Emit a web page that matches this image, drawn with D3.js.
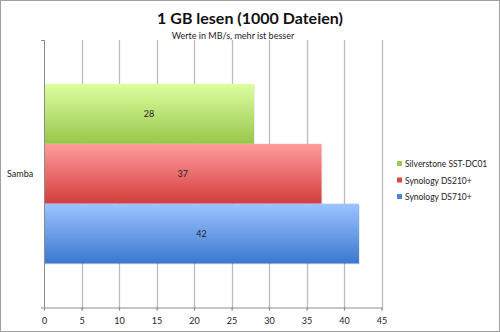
<!DOCTYPE html>
<html><head><meta charset="utf-8">
<script src="https://cdn.jsdelivr.net/npm/d3@7"></script>
<style>
html,body{margin:0;padding:0;background:#fff;}
svg{display:block;font-family:Lato,"Open Sans",sans-serif;}
</style></head>
<body>
<svg id="c" width="500" height="332"></svg>
<script>
const title = "1 GB lesen (1000 Dateien)";
const subtitle = "Werte in MB/s, mehr ist besser";
const categories = ["Samba"];
const seriesNames = ["Silverstone SST-DC01", "Synology DS210+", "Synology DS710+"];
const seriesValues = [28, 37, 42];
const xTicks = [0, 5, 10, 15, 20, 25, 30, 35, 40, 45];
const colorsTop = ["#dcffa0", "#ff9c9c", "#9cc4ff"];
const colorsBottom = ["#98c64a", "#d43d3d", "#3a78cf"];
const legendColors = ["#9bcc50", "#dd4646", "#4a86d8"];

const svg = d3.select("#c");
svg.append("rect").attr("x",0.5).attr("y",0.5).attr("width",499).attr("height",331)
  .attr("fill","#fff").attr("stroke","#a0a0a0");

const defs = svg.append("defs");
seriesNames.forEach((s,i)=>{
  const g = defs.append("linearGradient").attr("id","g"+i).attr("x1",0).attr("y1",0).attr("x2",0).attr("y2",1);
  g.append("stop").attr("offset","0%").attr("stop-color",colorsTop[i]);
  g.append("stop").attr("offset","100%").attr("stop-color",colorsBottom[i]);
});

const L = 44, R = 381.5, T = 40, B = 307.5;
const x = d3.scaleLinear().domain([0,45]).range([L,R]);
const y = d3.scaleBand().domain(categories).range([T,B]);
const inner = d3.scaleBand().domain(seriesNames).range([0,y.bandwidth()]).paddingOuter(0.735).paddingInner(0);

// gridlines
svg.append("g").selectAll("line").data(xTicks.slice(1)).join("line")
  .attr("x1",d=>Math.round(x(d))+0.5).attr("x2",d=>Math.round(x(d))+0.5)
  .attr("y1",T).attr("y2",B+3).attr("stroke","#bcbcbc").attr("stroke-width",1.3);

// bars
categories.forEach(c=>{
  seriesNames.forEach((s,i)=>{
    const y0 = y(c)+inner(s);
    svg.append("rect").attr("x",x(0)+1).attr("y",y0+1).attr("width",x(seriesValues[i])-x(0)).attr("height",inner.bandwidth())
      .attr("fill","#000").attr("opacity",0.08);
    svg.append("rect").attr("x",x(0)).attr("y",y0).attr("width",x(seriesValues[i])-x(0)).attr("height",inner.bandwidth())
      .attr("fill","url(#g"+i+")");
    svg.append("text").attr("x",(x(0)+x(seriesValues[i]))/2).attr("y",y0+inner.bandwidth()/2+3)
      .attr("text-anchor","middle").attr("font-size",9).attr("fill","#222").text(seriesValues[i]);
  });
});

// axes
const xAxis = d3.axisBottom(x).tickValues(xTicks).tickSize(3).tickSizeOuter(0);
const gx = svg.append("g").attr("transform",`translate(0,${B})`).call(xAxis);
gx.select(".domain").attr("stroke","#8c8c8c");
gx.selectAll(".tick line").attr("stroke","#8c8c8c");
gx.selectAll("text").attr("font-size",9).attr("fill","#222").attr("dy","1.2em")
  .attr("font-family","Lato,'Open Sans',sans-serif");

svg.append("line").attr("x1",L+0.5).attr("x2",L+0.5).attr("y1",T).attr("y2",B+3).attr("stroke","#8c8c8c");
svg.append("line").attr("x1",L-3).attr("x2",L).attr("y1",T+0.5).attr("y2",T+0.5).attr("stroke","#8c8c8c");
svg.append("line").attr("x1",L-3).attr("x2",L).attr("y1",B+0.5).attr("y2",B+0.5).attr("stroke","#8c8c8c");

categories.forEach(c=>{
  svg.append("text").attr("x",7).attr("y",y(c)+y.bandwidth()/2+3).attr("font-size",9).attr("fill","#222").text(c);
});

// title
svg.append("text").attr("x",250).attr("y",24).attr("text-anchor","middle").attr("font-size",16)
  .attr("font-weight","bold").attr("fill","#111").text(title);
svg.append("text").attr("x",233).attr("y",39).attr("text-anchor","middle").attr("font-size",9)
  .attr("fill","#222").text(subtitle);

// legend
const lg = svg.append("g");
seriesNames.forEach((s,i)=>{
  const ly = 164 + i*16.5;
  lg.append("rect").attr("x",397).attr("y",ly-3).attr("width",5).attr("height",5).attr("fill",legendColors[i]);
  lg.append("text").attr("x",405).attr("y",ly+3).attr("font-size",8.5).attr("fill","#222").text(s);
});
</script>
</body></html>
